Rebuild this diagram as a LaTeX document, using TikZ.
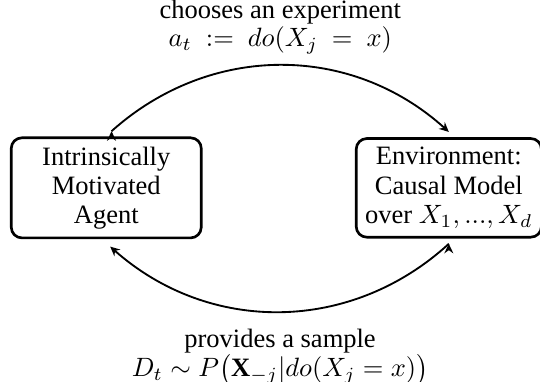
\documentclass[tikz,border=0pt]{standalone}
\usepackage{fontspec}
\setmainfont{Liberation Serif}
\usetikzlibrary{positioning,arrows.meta}

\begin{document}
\begin{tikzpicture}[
    node distance=57.5pt,
    align=center,
    font=\fontsize{10}{11}\selectfont,
    base/.style={rectangle, rounded corners=4pt, minimum height=36.4pt, line width=1pt, draw=black},
    agentbox/.style={base, minimum width=71.7pt},
    envbox/.style={base},
    flow/.style={black, line width=0.7pt, -{Stealth[length=3.6pt, width=3.4pt, inset=1.2pt]}}
  ]

  \useasboundingbox (0,0) rectangle (203.8pt,-143.8pt);

  \node (agent)  [agentbox] at (40.1pt,-70.9pt)  {Intrinsically\\
                                                    Motivated\\
                                                    Agent};

  \node (env)    [envbox, right=of agent]         {Environment:\\
                                                    Causal Model\\
                                                    over $X_1,...,X_d$};

  \draw[flow]  ([shift={(2pt,2pt)}]agent.north) edge [bend left=42]
                   node (act) [above=0.6pt] {chooses an experiment\\[-0.5pt]
                                             $a_t \ := \ do(X_j \ = \ x)$}
               ([yshift=2pt]env.north);

  \draw[flow]  ([yshift=-2pt]env.south) edge [bend left=42]
                   node (obs) [below=3pt] {provides a sample\\
                                           $D_t \sim P\big(\mathbf{X}_{-j}|do(X_j = x)\big)$}
               ([shift={(1.5pt,-2.8pt)}]agent.south);
\end{tikzpicture}
\end{document}
